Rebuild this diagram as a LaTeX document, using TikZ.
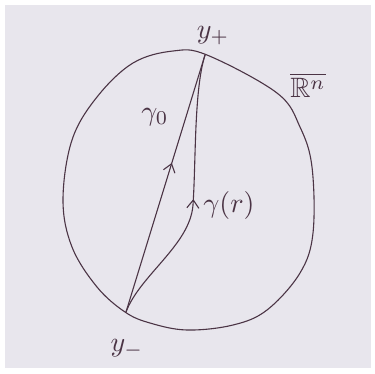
\documentclass[tikz,border=0pt]{standalone}
\usepackage{amssymb,amsmath}
\usetikzlibrary{arrows.meta,decorations.markings}
\definecolor{paper}{HTML}{E8E6ED}
\definecolor{ink}{HTML}{4B3445}
\newcommand{\bigtxt}[1]{\scalebox{2.8}{#1}}
\tikzset{
  pen/.style={draw=ink, line width=1.1pt, line cap=round, line join=round},
  lbl/.style={text=ink, inner sep=1pt},
  midarrow/.style={postaction={decorate}, decoration={markings,
    mark=at position #1 with {\arrow[ink, line width=1.1pt]{Straight Barb[length=8pt, width=12pt]}}}}
}

\begin{document}
\begin{tikzpicture}[x=1pt, y=-1pt]
  \useasboundingbox (0,0) rectangle (375,373);
  \fill[white] (0,0) rectangle (375,373);
  \fill[paper] (5,5) rectangle (371,368);

  % the closed ball
  \draw[pen] plot[smooth cycle, tension=0.6] coordinates {
    (173,51) (207,55) (277,93) (300,127) (312,167) (313,233) (300,273)
    (267,310) (233,325) (187,330) (150,323) (125,312) (97,287) (72,247)
    (63,200) (72,140) (97,97) (133,63)};

  % end points
  \coordinate (yp) at (205,55);
  \coordinate (ym) at (126,312);
  \node[lbl] (yplbl) at (213,36) {\bigtxt{$y_+$}};
  \node[lbl] (ymlbl) at (127,349) {\bigtxt{$y_-$}};
  \node[lbl] (ball) at (308,85) {\bigtxt{$\overline{\mathbb{R}^n}$}};

  % straight path
  \draw[pen, midarrow=0.58] (ym) -- (yp);
  \node[lbl] (g0) at (155,117) {\bigtxt{$\gamma_0$}};

  % deformed path
  \draw[pen, midarrow=0.48] (ym) .. controls (140,275) and (190,245) .. (193,205)
    .. controls (196,160) and (194,90) .. (yp);
  \node[lbl] (gr) at (229,205) {\bigtxt{$\gamma(r)$}};
\end{tikzpicture}
\end{document}
